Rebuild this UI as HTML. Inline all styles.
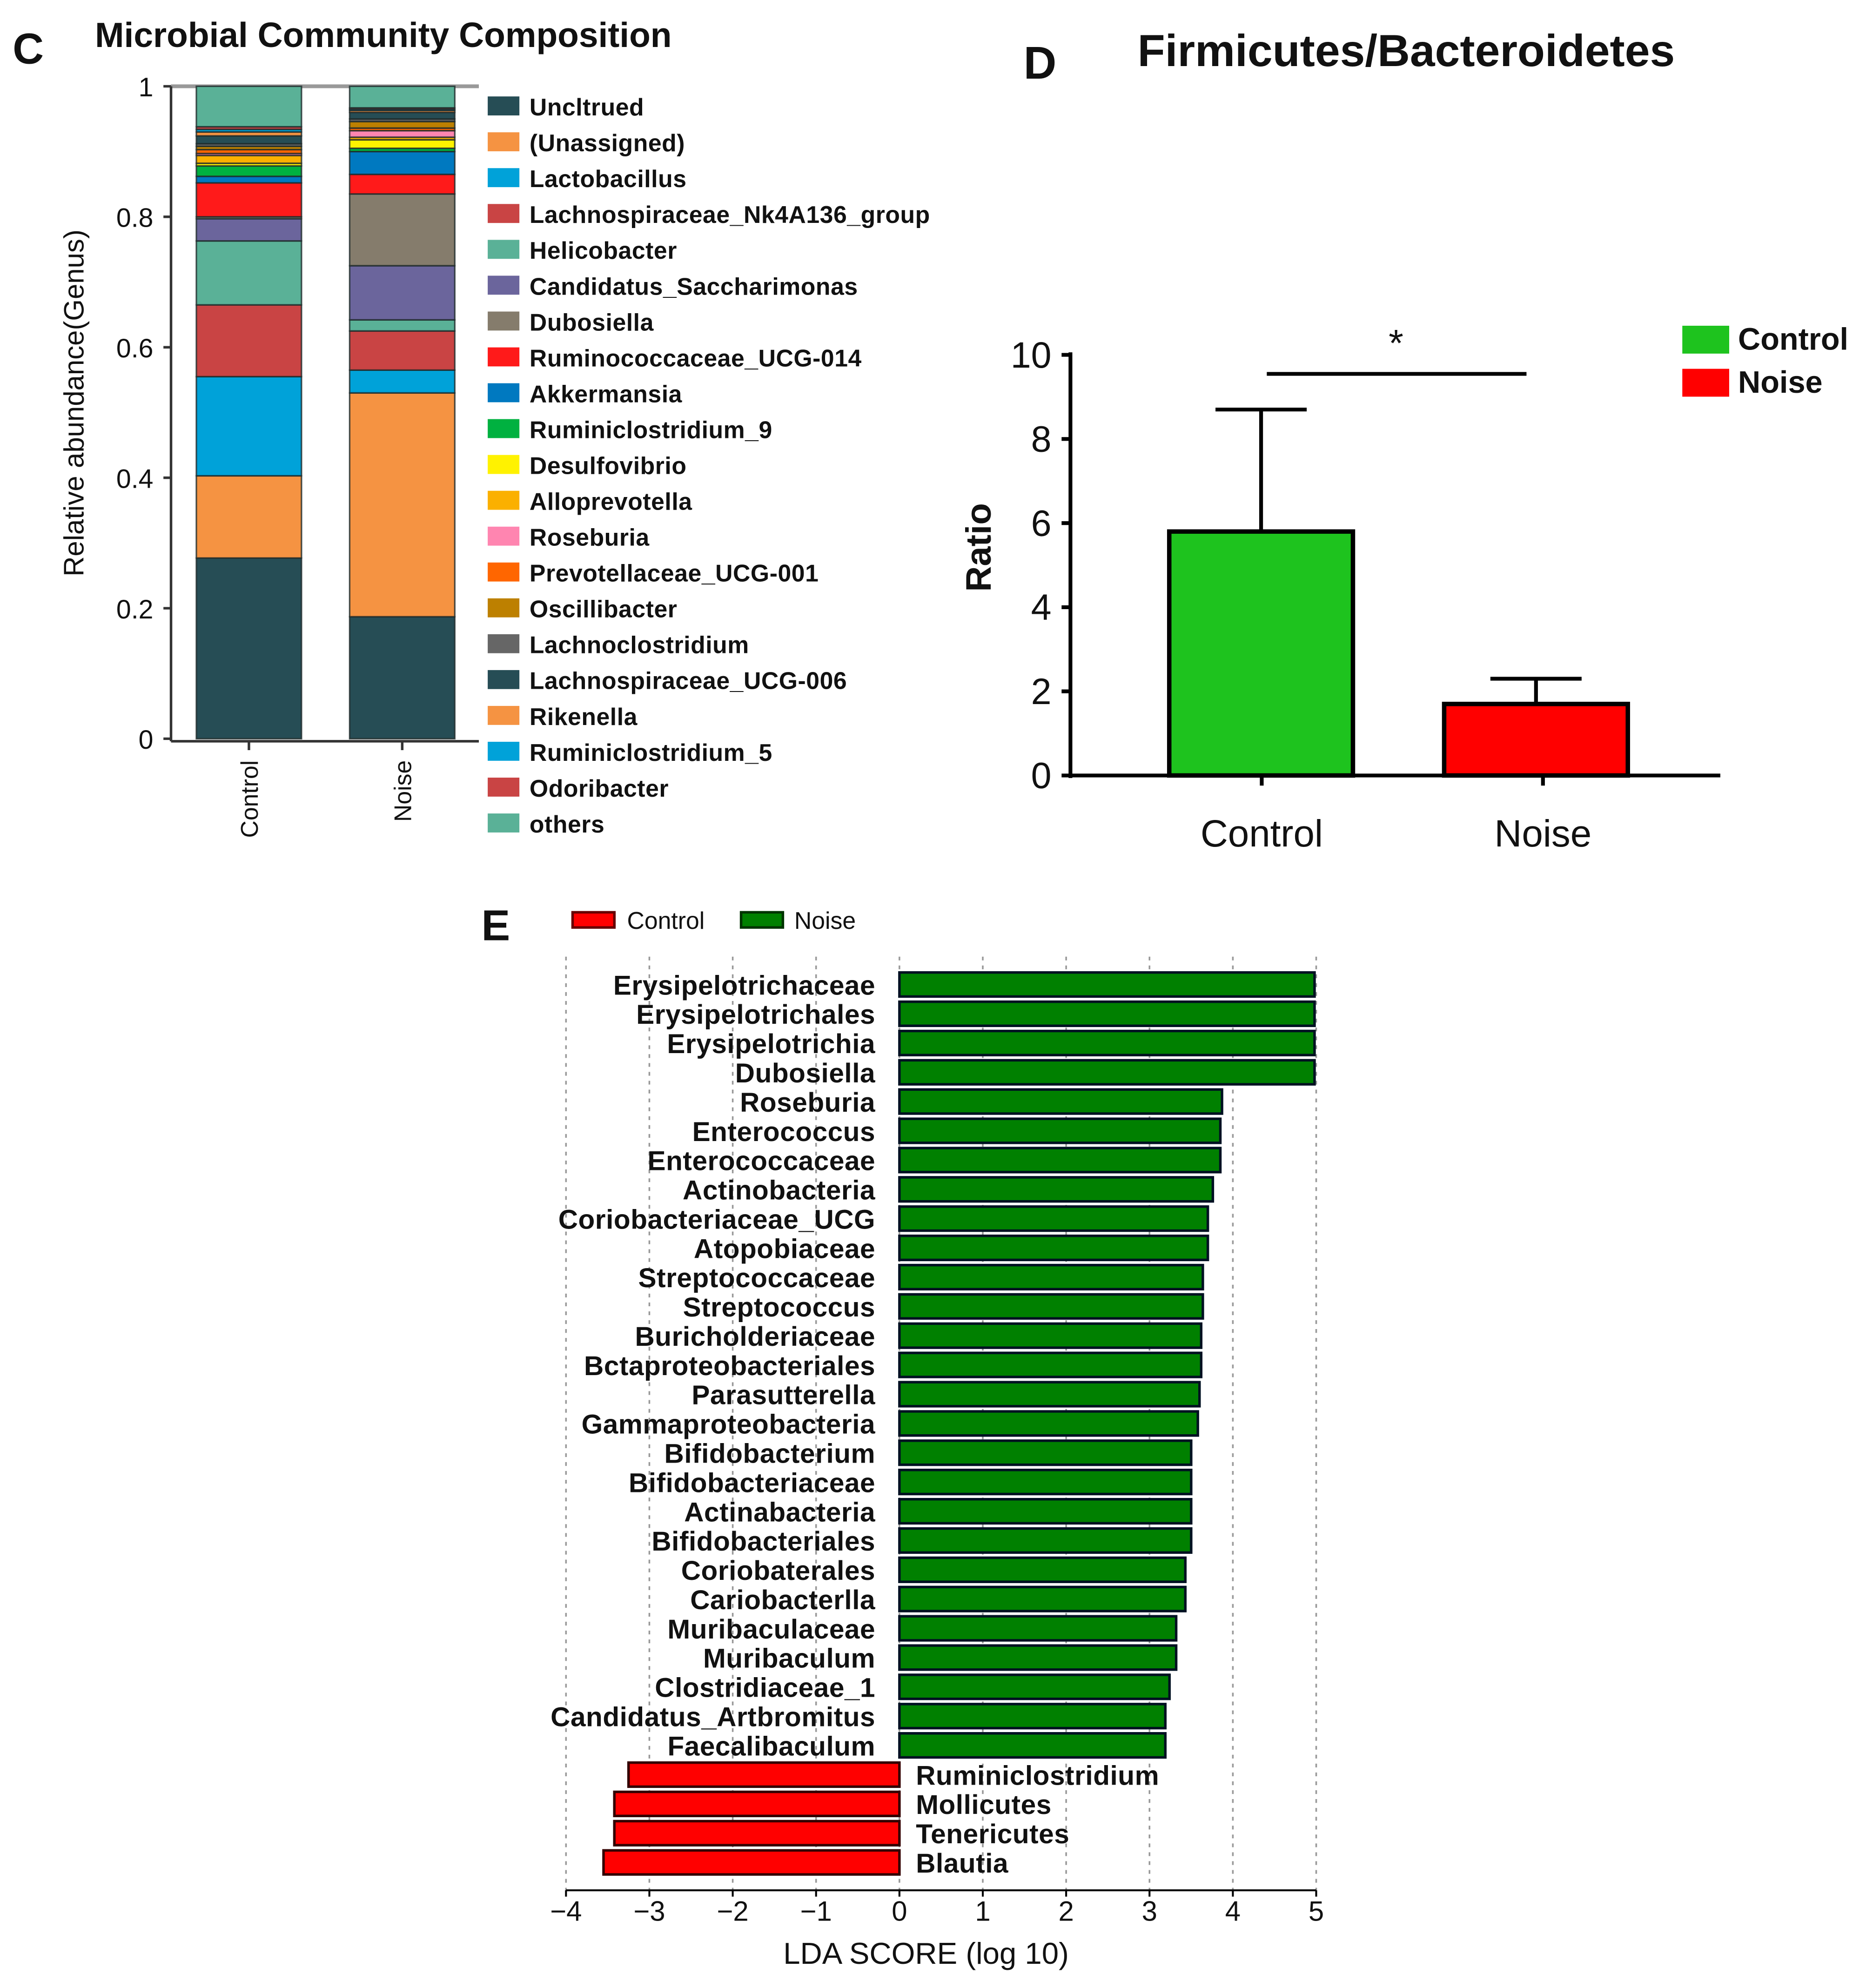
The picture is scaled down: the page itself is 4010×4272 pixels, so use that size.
<!DOCTYPE html>
<html><head><meta charset="utf-8"><style>
html,body{margin:0;padding:0;background:#fff;}
svg{display:block;}
text{font-family:"Liberation Sans",sans-serif;fill:#111;}
</style></head><body>
<svg id="fig" width="4010" height="4272" viewBox="0 0 1473 1569" xmlns="http://www.w3.org/2000/svg">
<g id="panelC">
  <text x="10" y="50" font-size="34" font-weight="bold">C</text>
  <text x="75" y="37" font-size="27.5" font-weight="bold">Microbial Community Composition</text>
  <text transform="translate(66,318) rotate(-90)" text-anchor="middle" font-size="22">Relative abundance(Genus)</text>
  <g id="cAxis"></g><g id="cBars"></g><g id="cLegend"></g>
</g>
<g id="panelD">
  <text x="808" y="62" font-size="36" font-weight="bold">D</text>
  <text x="898" y="52" font-size="35.5" font-weight="bold">Firmicutes/Bacteroidetes</text>
  <text transform="translate(782,432) rotate(-90)" text-anchor="middle" font-size="28" font-weight="bold">Ratio</text>
  <g id="dChart"></g>
</g>
<g id="panelE">
  <text x="380" y="742" font-size="34" font-weight="bold">E</text>
  <g id="eChart"></g>
  <text x="731" y="1550" text-anchor="middle" font-size="24">LDA SCORE (log 10)</text>
</g>
</svg>
<script>
// ---------- Panel C data ----------
const cGenera = ["Uncltrued","(Unassigned)","Lactobacillus","Lachnospiraceae_Nk4A136_group","Helicobacter","Candidatus_Saccharimonas","Dubosiella","Ruminococcaceae_UCG-014","Akkermansia","Ruminiclostridium_9","Desulfovibrio","Alloprevotella","Roseburia","Prevotellaceae_UCG-001","Oscillibacter","Lachnoclostridium","Lachnospiraceae_UCG-006","Rikenella","Ruminiclostridium_5","Odoribacter","others"];
const cColors = ["#264d55","#f59342","#00a2d9","#c94444","#5ab197","#6b659c","#857c6c","#ff1a1a","#0079c0","#00b140","#fff200","#fbb000","#ff85b0","#ff6600","#bd8000","#666666","#264d55","#f59342","#00a2d9","#c94444","#5ab197"];
const cControl = [0.277,0.126,0.152,0.110,0.098,0.034,0.003,0.052,0.010,0.016,0.004,0.012,0.003,0.006,0.005,0.004,0.012,0.006,0.004,0.004,0.062];
const cNoise = [0.187,0.343,0.035,0.060,0.017,0.083,0.110,0.030,0.035,0.005,0.013,0.004,0.010,0.004,0.010,0.004,0.010,0.003,0.002,0.002,0.033];
const cSamples = ["Control","Noise"];
const cTicks = [0,0.2,0.4,0.6,0.8,1];
const cTickLabels = ["0","0.2","0.4","0.6","0.8","1"];

// ---------- Panel D data ----------
const dGroups = ["Control","Noise"];
const dMeans = [5.8,1.7];
const dErrors = [2.9,0.6];
const dColors = ["#1ec31e","#ff0000"];
const dTicks = [0,2,4,6,8,10];

// ---------- Panel E data ----------
const eTaxa = ["Erysipelotrichaceae","Erysipelotrichales","Erysipelotrichia","Dubosiella","Roseburia","Enterococcus","Enterococcaceae","Actinobacteria","Coriobacteriaceae_UCG","Atopobiaceae","Streptococcaceae","Streptococcus","Buricholderiaceae","Bctaproteobacteriales","Parasutterella","Gammaproteobacteria","Bifidobacterium","Bifidobacteriaceae","Actinabacteria","Bifidobacteriales","Coriobaterales","Cariobacterlla","Muribaculaceae","Muribaculum","Clostridiaceae_1","Candidatus_Artbromitus","Faecalibaculum","Ruminiclostridium","Mollicutes","Tenericutes","Blautia"];
const eScores = [4.98,4.98,4.98,4.98,3.87,3.85,3.85,3.76,3.70,3.70,3.64,3.64,3.62,3.62,3.60,3.58,3.50,3.50,3.50,3.50,3.43,3.43,3.32,3.32,3.24,3.19,3.19,-3.25,-3.42,-3.42,-3.55];
const eTicks = [-4,-3,-2,-1,0,1,2,3,4,5];
const eTickLabels = ["\u22124","\u22123","\u22122","\u22121","0","1","2","3","4","5"];

const NS="http://www.w3.org/2000/svg";
function mk(tag, attrs, parent, txt){const e=document.createElementNS(NS,tag);for(const k in attrs)e.setAttribute(k,attrs[k]);if(txt!==undefined)e.textContent=txt;parent.appendChild(e);return e;}

// ---------- Panel C ----------
(function(){
  const y=v=>583-v*515;
  const ax=document.getElementById('cAxis');
  let e=mk('line',{x1:135,y1:68,x2:378,y2:68,stroke:'#999','stroke-width':3},ax);
  
  e=mk('line',{x1:135,y1:68,x2:135,y2:585,stroke:'#333','stroke-width':2},ax);
  
  e=mk('line',{x1:135,y1:585,x2:378,y2:585,stroke:'#333','stroke-width':2},ax);
  
  cTicks.forEach((t,i)=>{
    const l=mk('line',{x1:129,y1:y(t),x2:135,y2:y(t),stroke:'#333','stroke-width':2},ax);
    
    const tx=mk('text',{x:121,y:y(t)+8,'text-anchor':'end','font-size':21},ax,cTickLabels[i]);
    
  });
  const bars=document.getElementById('cBars');
  const xs=[155,276], w=83;
  [cControl,cNoise].forEach((vals,si)=>{
    let acc=0;
    vals.forEach((v,gi)=>{
      const r=mk('rect',{x:xs[si],y:y(acc+v),width:w,height:v*515,fill:cColors[gi],stroke:'#1e2b2b','stroke-width':1.2,'stroke-opacity':0.8},bars);
      
      
      acc+=v;
    });
    const cx=xs[si]+w/2;
    const tk=mk('line',{x1:cx,y1:585,x2:cx,y2:592,stroke:'#333','stroke-width':2},bars);
    
    const t=mk('text',{transform:`translate(${cx+7},600) rotate(-90)`,'text-anchor':'end','font-size':19},bars,cSamples[si]);
    
  });
  const lg=document.getElementById('cLegend');
  cGenera.forEach((name,k)=>{
    const yy=84+k*28.3;
    const r=mk('rect',{x:385,y:yy-8,width:25,height:15,fill:cColors[k]},lg);
    
    const t=mk('text',{x:418,y:yy+7,'font-size':19,'font-weight':'bold','letter-spacing':'0.2'},lg,name);
    
  });
})();

// ---------- Panel D ----------
(function(){
  const g=document.getElementById('dChart');
  const y=v=>612-v*33.2;
  let e=mk('line',{x1:845,y1:278,x2:845,y2:614,stroke:'#000','stroke-width':3},g);
  
  e=mk('line',{x1:844,y1:612,x2:1358,y2:612,stroke:'#000','stroke-width':3},g);
  
  dTicks.forEach(t=>{
    const l=mk('line',{x1:838,y1:y(t),x2:845,y2:y(t),stroke:'#000','stroke-width':3},g);
    
    const tx=mk('text',{x:830,y:y(t)+10,'text-anchor':'end','font-size':29},g,String(t));
    
  });
  const xs=[923,1140], w=145, lx=[996,1218];
  dGroups.forEach((gname,i)=>{
    const cx=xs[i]+w/2;
    const er=mk('line',{x1:cx,y1:y(dMeans[i]),x2:cx,y2:y(dMeans[i]+dErrors[i]),stroke:'#000','stroke-width':3},g);
    
    const cap=mk('line',{x1:cx-36,y1:y(dMeans[i]+dErrors[i]),x2:cx+36,y2:y(dMeans[i]+dErrors[i]),stroke:'#000','stroke-width':3},g);
    
    const r=mk('rect',{x:xs[i],y:y(dMeans[i]),width:w,height:dMeans[i]*33.2,fill:dColors[i],stroke:'#000','stroke-width':3.5},g);
    
    const tk=mk('line',{x1:lx[i],y1:612,x2:lx[i],y2:620,stroke:'#000','stroke-width':3},g);
    
    const t=mk('text',{x:lx[i],y:668,'text-anchor':'middle','font-size':30},g,gname);
    
    const ls=mk('rect',{x:1328,y:257+i*34,width:37,height:22,fill:dColors[i]},g);
    
    const lt=mk('text',{x:1372,y:276+i*34,'font-size':24.5,'font-weight':'bold'},g,gname);
    
  });
  e=mk('line',{x1:1000,y1:295,x2:1205,y2:295,stroke:'#000','stroke-width':3},g);
  
  e=mk('text',{x:1102,y:281,'text-anchor':'middle','font-size':30},g,'*');
  
})();

// ---------- Panel E ----------
(function(){
  const g=document.getElementById('eChart');
  const x=v=>710+v*65.8;
  const rowY=i=>777+i*23.1;
  let e=mk('rect',{x:452,y:720,width:33,height:12,fill:'#ff0000',stroke:'#600','stroke-width':2},g);
  
  e=mk('text',{x:495,y:733,'font-size':19},g,'Control');
  
  e=mk('rect',{x:585,y:720,width:33,height:12,fill:'#008000',stroke:'#030','stroke-width':2},g);
  
  e=mk('text',{x:627,y:733,'font-size':19},g,'Noise');
  
  eTicks.forEach((t,i)=>{
    const gl=mk('line',{x1:x(t),y1:755,x2:x(t),y2:1492,stroke:'#999','stroke-width':1.3,'stroke-dasharray':'3,4'},g);
    
    const tx=mk('text',{x:x(t),y:1516,'text-anchor':'middle','font-size':22},g,eTickLabels[i]);
    
    const tk=mk('line',{x1:x(t),y1:1492,x2:x(t),y2:1497,stroke:'#000','stroke-width':1.5},g);
    
  });
  e=mk('line',{x1:x(-4),y1:1492,x2:x(5),y2:1492,stroke:'#000','stroke-width':1.5},g);
  
  eTaxa.forEach((name,i)=>{
    const v=eScores[i], cy=rowY(i);
    const x0=Math.min(x(0),x(v)), w=Math.abs(x(v)-x(0));
    const r=mk('rect',{x:x0,y:cy-9.5,width:w,height:19,fill:v>0?'#008000':'#ff0000',stroke:v>0?'#012':'#300','stroke-width':2},g);
    
    const t=mk('text',{x:v>0?691:723,y:cy+8,'text-anchor':v>0?'end':'start','font-size':21.5,'font-weight':'bold','letter-spacing':'0.2'},g,name);
    
  });
})();
</script>
</body></html>
